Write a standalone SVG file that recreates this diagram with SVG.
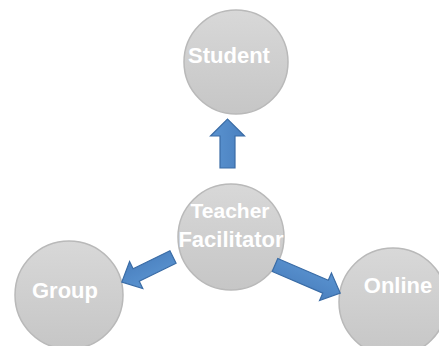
<svg xmlns="http://www.w3.org/2000/svg" width="439" height="346" viewBox="0 0 439 346">
<defs>
<linearGradient id="g" x1="0" y1="0" x2="0" y2="1">
<stop offset="0" stop-color="#d8d8d8"/>
<stop offset="1" stop-color="#c6c6c6"/>
</linearGradient>
<linearGradient id="b" x1="0" y1="0" x2="0" y2="1">
<stop offset="0" stop-color="#5a93d0"/>
<stop offset="1" stop-color="#4a80bf"/>
</linearGradient>
<style>
.node circle{fill:url(#g);stroke:#b9b9b9;stroke-width:1.5}
.node text{font-family:"Liberation Sans",Arial,sans-serif;font-weight:bold;font-size:22px;fill:#ffffff;text-anchor:middle}
.arrow{fill:url(#b);stroke:#3a6ca6;stroke-width:1.2;stroke-linejoin:miter}
</style>
</defs>
<rect width="439" height="346" fill="#ffffff"/>
<g id="student" class="node">
<circle cx="236" cy="62" r="52"/>
<text x="229" y="63">Student</text>
</g>
<g id="teacher" class="node">
<circle cx="231" cy="237" r="53"/>
<text x="230" y="218" style="font-size:21px">Teacher</text>
<text x="231" y="247">Facilitator</text>
</g>
<g id="group" class="node">
<circle cx="69" cy="295" r="54"/>
<text x="65" y="298">Group</text>
</g>
<g id="online" class="node">
<circle cx="393" cy="302" r="54"/>
<text x="398" y="293">Online</text>
</g>
<g id="connectors">
<path class="arrow" transform="translate(227.5,168) rotate(-90)" d="M0,-7.5 L32,-7.5 L32,-17 L49,0 L32,17 L32,7.5 L0,7.5 Z"/>
<path class="arrow" transform="translate(173,257) rotate(153.9)" d="M0,-7 L41,-7 L41,-15 L57,0 L41,15 L41,7 L0,7 Z"/>
<path class="arrow" transform="translate(275,265) rotate(23.3)" d="M0,-7 L55,-7 L55,-15 L71,0 L55,15 L55,7 L0,7 Z"/>
</g>
</svg>
